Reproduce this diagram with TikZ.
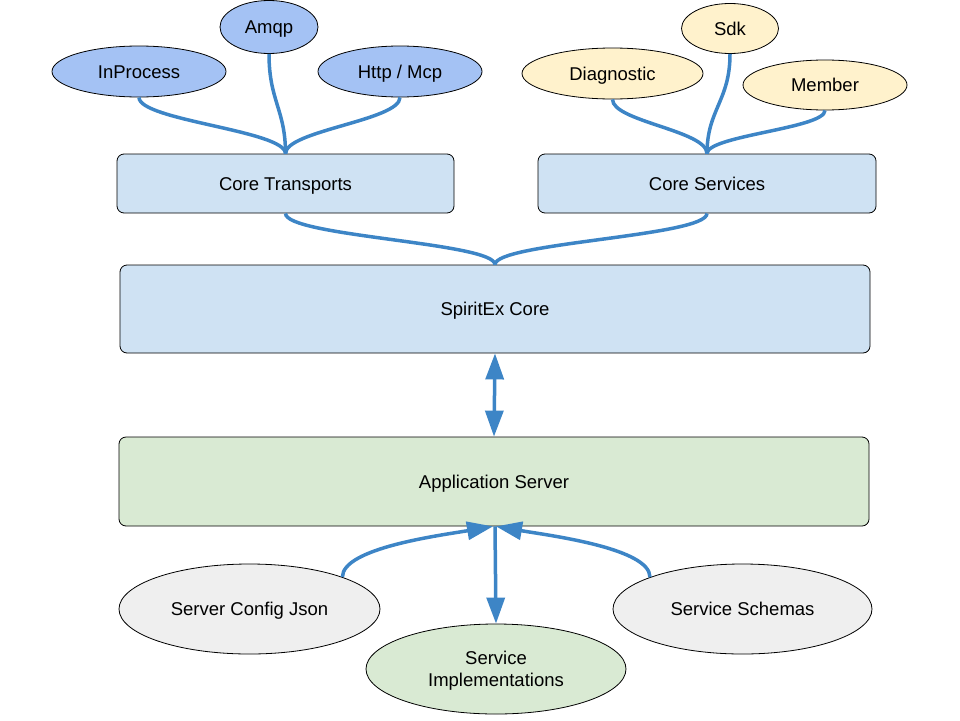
\documentclass[tikz,border=0pt]{standalone}
\usepackage{fontspec}
\setmainfont{Liberation Sans}
\usetikzlibrary{shapes.geometric,arrows.meta}
\definecolor{linkblue}{HTML}{3D85C6}
\definecolor{boxblue}{HTML}{CFE2F3}
\definecolor{ellblue}{HTML}{A4C2F4}
\definecolor{ellyellow}{HTML}{FFF2CC}
\definecolor{boxgreen}{HTML}{D9EAD3}
\definecolor{ellgray}{HTML}{EFEFEF}
\tikzset{
  base/.style={draw=black, line width=0.8pt, inner sep=0pt, font=\fontsize{18.5}{22}\selectfont, align=center, text height=13pt, text depth=0pt},
  rbox/.style={base, rectangle, rounded corners=7pt},
  oval/.style={base, ellipse},
  link/.style={draw=linkblue, line width=3.5pt},
  tipx/.style={-{Triangle[length=26pt,width=18pt]}},
}
\begin{document}
\begin{tikzpicture}[x=1pt,y=-1pt]
\useasboundingbox (0,0) rectangle (960,720);
% top ellipses
\node[oval, fill=ellblue, minimum width=174pt, minimum height=51pt] (inproc) at (139,71.5) {InProcess};
\node[oval, fill=ellblue, minimum width=98pt, minimum height=53pt] (amqp) at (269,27) {Amqp};
\node[oval, fill=ellblue, minimum width=164pt, minimum height=51pt] (http) at (400,71.5) {Http / Mcp};
\node[oval, fill=ellyellow, minimum width=181pt, minimum height=51pt] (diag) at (612.5,73.5) {Diagnostic};
\node[oval, fill=ellyellow, minimum width=97pt, minimum height=50pt] (sdk) at (730,28.5) {Sdk};
\node[oval, fill=ellyellow, minimum width=164pt, minimum height=50pt] (member) at (825,85) {Member};
% boxes
\node[rbox, fill=boxblue, minimum width=337pt, minimum height=59pt] (ctrans) at (285.5,183.5) {Core Transports};
\node[rbox, fill=boxblue, minimum width=338pt, minimum height=59pt] (cserv) at (707,183.5) {Core Services};
\node[rbox, fill=boxblue, minimum width=750pt, minimum height=88pt] (core) at (495,309) {SpiritEx Core};
\node[rbox, fill=boxgreen, minimum width=750pt, minimum height=89pt] (app) at (494,481.5) {Application Server};
% bottom ellipses
\node[oval, fill=ellgray, minimum width=261pt, minimum height=90pt] (scj) at (249.5,609) {Server Config Json};
\node[oval, fill=ellgray, minimum width=259pt, minimum height=90pt] (ss) at (742.5,609) {Service Schemas};
\node[oval, fill=boxgreen, minimum width=260pt, minimum height=90pt, text height=35.5pt] (si) at (496,669) {Service\\Implementations};
% connectors top-left
\coordinate (ctj) at (ctrans.north);
\draw[link] (inproc.south) .. controls ++(0,23) and ++(0,-23) .. (ctj);
\draw[link] (amqp.south) .. controls ++(0,47) and ++(0,-44) .. (ctj);
\draw[link] (http.south) .. controls ++(0,23) and ++(0,-23) .. (ctj);
% connectors top-right
\coordinate (csj) at (cserv.north);
\draw[link] (diag.south) .. controls ++(0,22) and ++(0,-23) .. (csj);
\draw[link] (sdk.south) .. controls ++(0,47) and ++(0,-44) .. (csj);
\draw[link] (member.south) .. controls ++(0,18) and ++(0,-18) .. (csj);
% into core
\coordinate (cj) at (core.north);
\draw[link] (ctrans.south) .. controls ++(0,23) and ++(0,-22) .. (cj);
\draw[link] (cserv.south) .. controls ++(0,23) and ++(0,-22) .. (cj);
% core <-> app
\draw[link, {Triangle[length=26pt,width=18pt]}-{Triangle[length=26pt,width=18pt]}] (core.south) -- (app.north);
% bottom
\coordinate (aj) at (app.south);
\draw[link, tipx] (scj.19) .. controls ++(0,-29) and ++(-53,9) .. ([xshift=-1pt]aj);
\draw[link, tipx] (ss.161) .. controls ++(0,-29) and ++(53,9) .. ([xshift=2pt]aj);
\draw[link, tipx] ([xshift=1pt]aj) -- (si.north);
\end{tikzpicture}
\end{document}
